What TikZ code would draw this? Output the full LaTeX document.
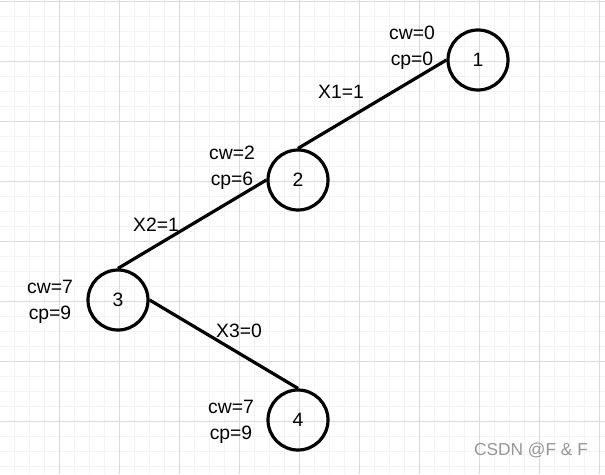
\documentclass[tikz,border=0pt]{standalone}
\usepackage{fontspec}
\setmainfont{Liberation Sans}
\definecolor{gridminor}{RGB}{243,243,243}
\definecolor{gridmajor}{RGB}{218,218,218}
\definecolor{markgray}{RGB}{150,150,150}
\usetikzlibrary{positioning}

\begin{document}
\begin{tikzpicture}[x=0.75pt, y=-0.75pt,
    vertex/.style={circle, draw=black, line width=2.4pt, minimum size=45pt,
                   inner sep=0pt, font=\fontsize{14.5}{16}\selectfont},
    info/.style={align=center, inner sep=0pt, font=\fontsize{14.5}{19.5}\selectfont},
    edge/.style={line width=2.4pt, black},
    choice/.style={inner sep=0pt, font=\fontsize{14.5}{16}\selectfont}]

\useasboundingbox (0,0) rectangle (605,474);
\fill[white] (0,0) rectangle (605,474);

% Grid
\begin{scope}
\clip (0,0) rectangle (605,474);
\foreach \k in {0,...,41} {
  \draw[gridminor, line width=0.75pt] (-0.5+15*\k,0) -- (-0.5+15*\k,474);
}
\foreach \k in {0,...,32} {
  \draw[gridminor, line width=0.75pt] (0,1.3+15*\k) -- (605,1.3+15*\k);
}
\foreach \k in {0,...,10} {
  \draw[gridmajor, line width=0.75pt] (-0.5+60*\k,0) -- (-0.5+60*\k,474);
}
\foreach \k in {0,...,8} {
  \draw[gridmajor, line width=0.75pt] (0,1.3+60*\k) -- (605,1.3+60*\k);
}
\end{scope}

% Nodes
\node[vertex] (n1) at (478,60) {1};
\node[vertex] (n2) at (298,180) {2};
\node[vertex] (n3) at (118,300) {3};
\node[vertex] (n4) at (298,420) {4};

% Edges
\draw[edge] (n2.north) -- (n1.west);
\draw[edge] (n2.west) -- (n3.north);
\draw[edge] (n3.east) -- (n4.north);

% Weight and value labels
\node[info] (i1) at (412,47.5) {cw=0\\cp=0};
\node[info] (i2) at (232,168) {cw=2\\cp=6};
\node[info] (i3) at (50,302) {cw=7\\cp=9};
\node[info] (i4) at (231,422) {cw=7\\cp=9};

% Edge choices
\node[choice] (x1) at (341,92) {X1=1};
\node[choice] (x2) at (156,225) {X2=1};
\node[choice] (x3) at (239,331) {X3=0};

% Watermark
\node[markgray, inner sep=0pt, font=\fontsize{13}{15}\selectfont] (wm) at (531,450) {CSDN @F \& F};
\end{tikzpicture}
\end{document}
